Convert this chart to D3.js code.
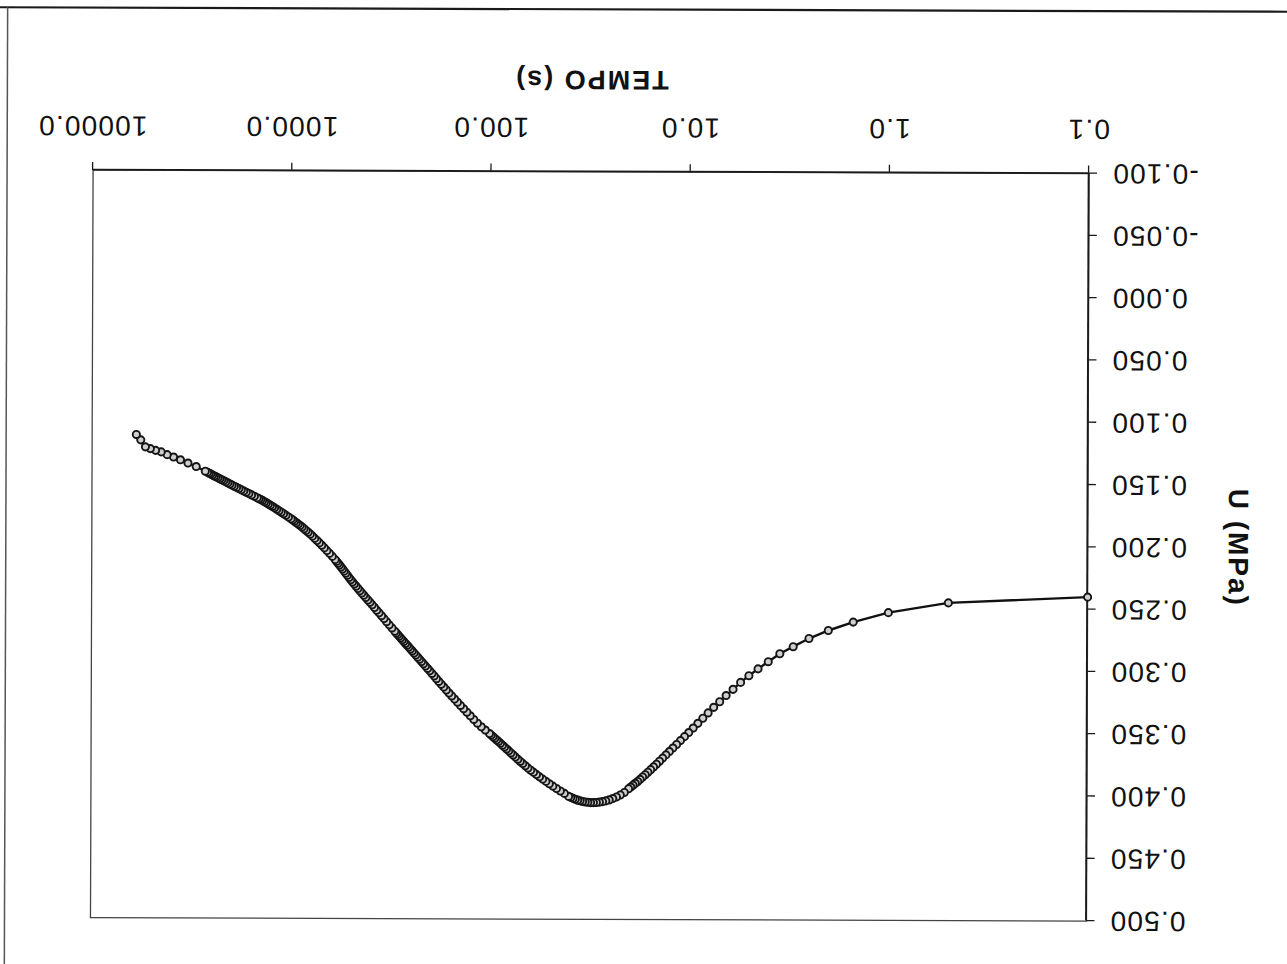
<!DOCTYPE html>
<html>
<head>
<meta charset="utf-8">
<script src="https://cdn.jsdelivr.net/npm/d3@7"></script>
<style>
  html, body { margin: 0; padding: 0; background: #fff; }
  svg { display: block; }
  text { font-family: "Liberation Sans", Arial, sans-serif; fill: #111; }
</style>
</head>
<body>
<svg id="chart" width="1287" height="964"></svg>
<script>
// Axis ticks
const timeTicks = [0.1, 1, 10, 100, 1000, 10000];
const timeTickLabels = ["0.1", "1.0", "10.0", "100.0", "1000.0", "10000.0"];
const uTicks = [-0.1, -0.05, 0, 0.05, 0.1, 0.15, 0.2, 0.25, 0.3, 0.35, 0.4, 0.45, 0.5];
const uTickLabels = ["-0.100", "-0.050", "0.000", "0.050", "0.100", "0.150", "0.200",
                     "0.250", "0.300", "0.350", "0.400", "0.450", "0.500"];

// Readings: elapsed time (s)
const tempo = [
  0.1, 0.5, 1, 1.5, 2, 2.5, 3, 3.5, 4, 4.5, 5, 5.5, 6, 6.5, 7, 7.5, 8, 8.5, 9, 9.5, 10,
  10.5, 11, 11.5, 12, 12.5, 13, 13.5, 14, 14.5, 15, 15.5, 16, 16.5, 17, 17.5, 18, 18.5, 19, 19.5, 20,
  21, 22, 23, 24, 25, 26, 27, 28, 29, 30, 31, 32, 33, 34, 35, 36, 37, 38, 39, 40,
  42, 44, 46, 48, 50, 52, 54, 56, 58, 60, 62, 64, 66, 68, 70, 72, 74, 76, 78, 80,
  82, 84, 86, 88, 90, 92, 94, 96, 98, 100,
  105, 110, 115, 120, 125, 130, 135, 140, 145, 150, 155, 160, 165, 170, 175, 180, 185, 190, 195, 200,
  205, 210, 215, 220, 225, 230, 235, 240, 245, 250, 255, 260, 265, 270, 275, 280, 285, 290, 295, 300,
  310, 320, 330, 340, 350, 360, 370, 380, 390, 400, 410, 420, 430, 440, 450,
  460, 470, 480, 490, 500, 510, 520, 530, 540, 550, 560, 570, 580, 590, 600,
  620, 640, 660, 680, 700, 720, 740, 760, 780, 800, 820, 840, 860, 880, 900, 920, 940, 960, 980, 1000,
  1030, 1060, 1090, 1120, 1150, 1180, 1210, 1240, 1270, 1300, 1330, 1360, 1390, 1420, 1450, 1480,
  1530, 1580, 1630, 1680, 1730, 1780, 1830, 1880, 1930, 1980, 2030, 2080, 2130, 2180, 2230,
  2280, 2330, 2380, 2430, 2480, 2530, 2580, 2630,
  2700, 3000, 3300, 3600, 3900, 4200, 4500, 4800, 5100, 5400, 5700, 6000
];

// Readings: U (MPa)
const pressao = [
  0.2400, 0.2450, 0.2530, 0.2607, 0.2675, 0.2740, 0.2806, 0.2863, 0.2927, 0.2985, 0.3040,
  0.3094, 0.3150, 0.3200, 0.3250, 0.3295, 0.3340, 0.3383, 0.3424, 0.3462, 0.3498,
  0.3531, 0.3563, 0.3594, 0.3623, 0.3651, 0.3678, 0.3704, 0.3729, 0.3753, 0.3775,
  0.3797, 0.3818, 0.3838, 0.3856, 0.3875, 0.3892, 0.3907, 0.3922, 0.3937, 0.3951,
  0.3981, 0.4001, 0.4017, 0.4030, 0.4041, 0.4049, 0.4055, 0.4059, 0.4062, 0.4063,
  0.4063, 0.4061, 0.4058, 0.4054, 0.4049, 0.4044, 0.4037, 0.4030, 0.4022, 0.4014,
  0.3990, 0.3971, 0.3951, 0.3932, 0.3913, 0.3894, 0.3876, 0.3858, 0.3840, 0.3822,
  0.3805, 0.3788, 0.3769, 0.3752, 0.3735, 0.3717, 0.3700, 0.3683, 0.3667, 0.3650,
  0.3635, 0.3620, 0.3605, 0.3590, 0.3576, 0.3563, 0.3550, 0.3537, 0.3524, 0.3512,
  0.3484, 0.3458, 0.3429, 0.3399, 0.3370, 0.3341, 0.3313, 0.3287, 0.3261, 0.3236,
  0.3211, 0.3188, 0.3164, 0.3140, 0.3118, 0.3095, 0.3073, 0.3051, 0.3031, 0.3010,
  0.2991, 0.2972, 0.2954, 0.2936, 0.2918, 0.2901, 0.2884, 0.2868, 0.2851, 0.2836,
  0.2820, 0.2805, 0.2791, 0.2776, 0.2762, 0.2748, 0.2734, 0.2720, 0.2707, 0.2693,
  0.2667, 0.2642, 0.2617, 0.2592, 0.2569, 0.2546, 0.2525, 0.2503, 0.2482, 0.2462,
  0.2443, 0.2424, 0.2405, 0.2387, 0.2369, 0.2351, 0.2333, 0.2316, 0.2299, 0.2282,
  0.2264, 0.2246, 0.2229, 0.2212, 0.2195, 0.2179, 0.2163, 0.2149, 0.2134, 0.2120,
  0.2094, 0.2070, 0.2048, 0.2026, 0.2005, 0.1986, 0.1967, 0.1950, 0.1932, 0.1916,
  0.1901, 0.1887, 0.1873, 0.1859, 0.1847, 0.1836, 0.1825, 0.1814, 0.1803, 0.1793,
  0.1779, 0.1766, 0.1753, 0.1741, 0.1729, 0.1717, 0.1706, 0.1695, 0.1685, 0.1675,
  0.1666, 0.1657, 0.1648, 0.1640, 0.1633, 0.1626,
  0.1614, 0.1603, 0.1592, 0.1582, 0.1572, 0.1562, 0.1552, 0.1543, 0.1534, 0.1525,
  0.1516, 0.1507, 0.1499, 0.1490, 0.1482, 0.1475, 0.1467, 0.1459, 0.1452, 0.1445,
  0.1437, 0.1430, 0.1423,
  0.1414, 0.1377, 0.1349, 0.1323, 0.1301, 0.1282, 0.1260, 0.1248, 0.1234, 0.1220, 0.1164, 0.1121
];

const W = 1287, H = 964;
const svg = d3.select("#chart");

// The sheet is shown turned upside down (half turn about the page centre)
const sheet = svg.append("g")
  .attr("transform", `rotate(180.2 ${W / 2} ${H / 2})`);

const plot = { left: 199, right: 1195, top: 44.5, bottom: 792 };

const x = d3.scaleLog().domain([0.1, 10000]).range([plot.left, plot.right]);
const y = d3.scaleLinear().domain([-0.1, 0.5]).range([plot.bottom, plot.top]);

// Outer chart frame (only two edges fall inside the page)
sheet.append("line")
  .attr("x1", -20).attr("x2", W + 20).attr("y1", 954.5).attr("y2", 954.5)
  .attr("stroke", "#1a1a1a").attr("stroke-width", 2.2);
sheet.append("line")
  .attr("x1", 1281).attr("x2", 1281).attr("y1", -20).attr("y2", 954.5)
  .attr("stroke", "#555").attr("stroke-width", 1.5);

// Plot-area border
sheet.append("rect")
  .attr("x", plot.left).attr("y", plot.top)
  .attr("width", plot.right - plot.left).attr("height", plot.bottom - plot.top)
  .attr("fill", "none").attr("stroke", "#444").attr("stroke-width", 1.3);

// X axis (log time)
const gx = sheet.append("g")
  .attr("transform", `translate(0,${plot.bottom})`)
  .call(d3.axisBottom(x)
    .tickValues(timeTicks)
    .tickFormat((d, i) => timeTickLabels[i])
    .tickSize(8).tickSizeOuter(0).tickPadding(26));

// Y axis (U)
const gy = sheet.append("g")
  .attr("transform", `translate(${plot.left},0)`)
  .call(d3.axisLeft(y)
    .tickValues(uTicks)
    .tickFormat((d, i) => uTickLabels[i])
    .tickSize(8).tickSizeOuter(0).tickPadding(15));

[gx, gy].forEach(g => {
  g.select(".domain").attr("stroke", "#1a1a1a").attr("stroke-width", 1.8);
  g.selectAll(".tick line").attr("stroke", "#1a1a1a").attr("stroke-width", 1.3);
  g.selectAll(".tick text")
    .attr("fill", "#111")
    .style("font-family", "'Liberation Sans', Arial, sans-serif")
    .style("font-size", "28px")
    .style("letter-spacing", "1.2px");
});

// Axis titles
sheet.append("text")
  .attr("x", (plot.left + plot.right) / 2)
  .attr("y", 893)
  .attr("text-anchor", "middle")
  .style("font-size", "27px")
  .style("font-weight", "bold")
  .style("letter-spacing", "2px")
  .text("TEMPO (s)");

sheet.append("text")
  .attr("transform", `translate(58,${(plot.top + plot.bottom) / 2}) rotate(-90)`)
  .attr("text-anchor", "middle")
  .style("font-size", "28px")
  .style("font-weight", "bold")
  .style("letter-spacing", "2px")
  .text("U (MPa)");

// Series
const points = tempo.map((t, i) => ({ t, u: pressao[i] }));

sheet.append("path")
  .datum(points)
  .attr("fill", "none")
  .attr("stroke", "#111")
  .attr("stroke-width", 2.4)
  .attr("d", d3.line().x(d => x(d.t)).y(d => y(d.u)));

sheet.append("g")
  .selectAll("circle")
  .data(points)
  .join("circle")
  .attr("cx", d => x(d.t))
  .attr("cy", d => y(d.u))
  .attr("r", 3.6)
  .attr("fill", "#cfcfcf")
  .attr("stroke", "#151515")
  .attr("stroke-width", 1.9);
</script>
</body>
</html>
